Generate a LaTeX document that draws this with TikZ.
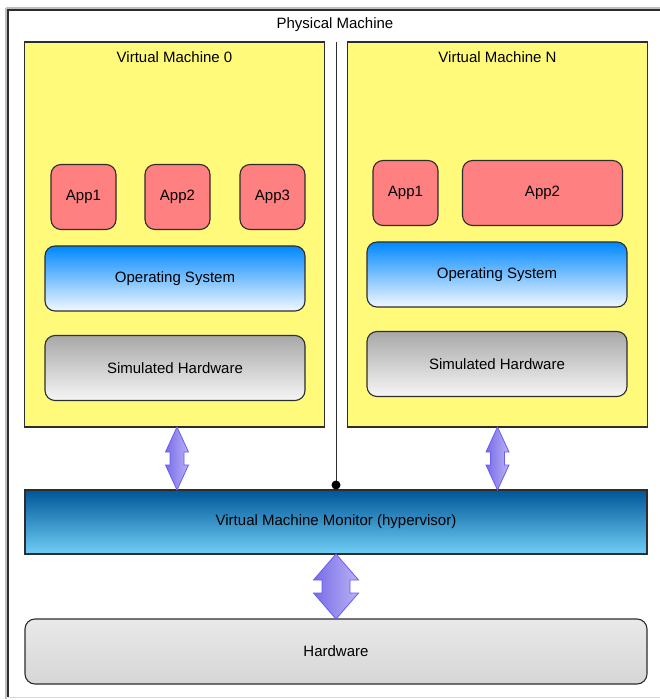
\documentclass[tikz,border=0pt]{standalone}
\usepackage{fontspec}
\setmainfont{Liberation Sans}
\usetikzlibrary{positioning,calc}

\definecolor{vmyellow}{RGB}{255,250,122}
\definecolor{appred}{RGB}{255,128,128}
\definecolor{edgegray}{RGB}{45,45,45}
\definecolor{arrowline}{RGB}{105,92,240}

\tikzset{
  box/.style={draw=edgegray, line width=1.1pt, inner sep=0pt, outer sep=0pt, font=\fontsize{15}{18}\selectfont},
  rbox/.style={box, rounded corners=10pt},
  vmbox/.style={box, fill=vmyellow, minimum width=300pt, minimum height=385pt},
  appbox/.style={rbox, fill=appred, minimum height=65pt},
  osbox/.style={rbox, top color={rgb,255:red,0;green,136;blue,255}, bottom color={rgb,255:red,242;green,248;blue,255}, minimum width=260pt, minimum height=65pt},
  simbox/.style={rbox, top color={rgb,255:red,168;green,168;blue,168}, bottom color={rgb,255:red,246;green,246;blue,246}, minimum width=260pt, minimum height=65pt},
  title/.style={inner sep=0pt, font=\fontsize{15}{18}\selectfont},
  linkarrow/.style={draw=arrowline, line width=0.8pt, left color={rgb,255:red,120;green,108;blue,232}, right color={rgb,255:red,184;green,178;blue,244}}
}

% double arrow between two anchors: top, bottom, head half width, shaft half width, head length
\newcommand{\vmarrow}[5]{%
  \path[linkarrow] let \p1=(#1), \p2=(#2) in
    (\x1,\y1) -- (\x1-#3,\y1-#5) -- (\x1-#4,\y1-#5) -- (\x1-#4,\y2+#5) -- (\x1-#3,\y2+#5) -- (\x1,\y2)
    -- (\x1+#3,\y2+#5) -- (\x1+#4,\y2+#5) -- (\x1+#4,\y1-#5) -- (\x1+#3,\y1-#5) -- cycle;}

\begin{document}
\begin{tikzpicture}[x=1pt, y=-1pt]
    \useasboundingbox (0,0) rectangle (659,700);
    \fill[white] (0,0) rectangle (659,700);

    % physical machine frame
    \draw[black!25, line width=2pt] (6,8) -- (6,699);
    \draw[black!25, line width=2pt] (6,8) -- (665,8);
    \draw[edgegray, line width=1.2pt] (8,697) -- (8,10) -- (665,10);
    \draw[black!15, line width=1pt] (8,697) -- (665,697);
    \node[title] (phystitle) at (335,25) {Physical Machine};

    % virtual machines
    \node[vmbox] (vm0) at (174.5,234.5) {};
    \node[vmbox] (vmN) at (497.5,234.5) {};
    \node[title, below=9.5pt of vm0.north] (vm0title) {Virtual Machine 0};
    \node[title, below=9.5pt of vmN.north] (vmNtitle) {Virtual Machine N};

    % applications
    \node[appbox, minimum width=65pt] (app01) at (83.5,197) {App1};
    \node[appbox, minimum width=65pt] (app02) at (177.5,197) {App2};
    \node[appbox, minimum width=65pt] (app03) at (272.5,197) {App3};
    \node[appbox, minimum width=65pt] (appN1) at (405.5,193) {App1};
    \node[appbox, minimum width=160pt] (appN2) at (542.5,193) {App2};

    % guest layers
    \node[osbox] (os0) at (175,278.5) {Operating System};
    \node[osbox] (osN) at (497,274.5) {Operating System};
    \node[simbox] (hw0) at (175,368) {Simulated Hardware};
    \node[simbox] (hwN) at (497,364) {Simulated Hardware};

    % host layers
    \node[box, minimum width=622pt, minimum height=64pt, top color={rgb,255:red,0;green,86;blue,150}, bottom color={rgb,255:red,112;green,206;blue,246}] (vmm) at (336,522) {Virtual Machine Monitor (hypervisor)};
    \node[rbox, minimum width=622pt, minimum height=65pt, top color={rgb,255:red,233;green,233;blue,233}, bottom color={rgb,255:red,214;green,214;blue,214}] (hw) at (336,651.5) {Hardware};

    % separator line
    \coordinate (split) at (336,42);
    \coordinate (tap) at (split |- 485,485);
    \draw[edgegray, line width=1pt] (split) -- (tap);
    \fill[black] (tap) circle (4.5pt);

    % links
    \vmarrow{$(vm0.south)+(2.5,0)$}{$(vm0.south |- vmm.north)+(2.5,0)$}{11.5pt}{7pt}{25pt}
    \vmarrow{vmN.south}{vmN.south |- vmm.north}{11.5pt}{7pt}{25pt}
    \vmarrow{vmm.south}{hw.north}{22.5pt}{14pt}{26pt}
\end{tikzpicture}
\end{document}
